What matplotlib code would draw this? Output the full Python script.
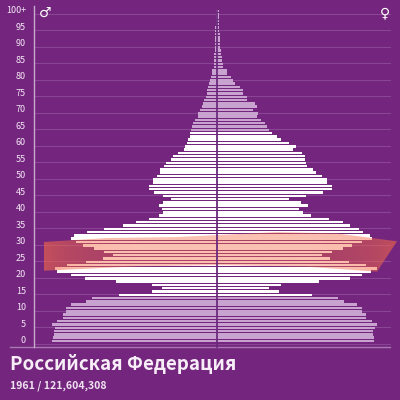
import numpy as np
import matplotlib
matplotlib.use('Agg')
import matplotlib.pyplot as plt
from matplotlib.patches import Polygon

# half widths of the bars, age 0 to 100
male = [165,164,163,163,162,165,160,154,154,151,151,146,131,125,98,65,55,65,101,132,
        146,160,162,150,131,114,104,113,123,134,141,146,143,130,113,94,81,68,58,54,
        55,58,54,46,54,63,68,68,64,64,60,57,57,53,51,46,44,39,33,32,
        30,29,27,27,26,25,24,22,19,19,17,15,14,13,11,10,10,9,8,7,
        6,5,5,3,3,3,3,3,2.5,2.5,2.5,2,2,2,2,2,1.5,1.5,1.5,1.5,1.5]
female = [157,157,156,156,158,160,155,149,149,145,145,140,127,121,95,62,52,64,102,133,
          145,154,160,149,132,113,105,115,126,135,145,155,153,146,142,133,126,112,94,86,
          82,91,84,72,89,106,115,115,110,110,105,99,96,90,89,88,88,85,76,79,
          72,64,60,55,52,50,48,44,40,41,36,40,38,30,30,26,26,23,18,16,
          14,10,10,6,6,5,5,4,4,3,3,3,2.5,2.5,2,2,2,1.5,1.5,1.5,1.5]
ages = np.arange(101)
tick_ages = np.arange(0, 101, 5)
tick_labels = [str(a) for a in tick_ages[:-1]] + ['100+']
title = 'Российская Федерация'
subtitle = '1961 / 121,604,308'

bg = '#74267f'
light = '#f3e6f3'

plt.rcParams['font.family'] = ['Noto Sans CJK SC', 'DejaVu Sans']
fig = plt.figure(figsize=(4, 4), dpi=100, facecolor=bg)
ax = fig.add_axes([0, 0, 1, 1], facecolor=bg)
ax.set_xlim(-217, 183)
ax.set_ylim(-17.88, 103.33)
ax.axis('off')

# grid
for a in tick_ages:
    ax.plot([-183, 173], [a-0.9, a-0.9], color='#8a4494', lw=0.8, zorder=1)
ax.plot([-207, 173], [-1.8, -1.8], color='#a878b0', lw=1, zorder=1)
ax.plot([-183.5, -183.5], [-1.8, 101.5], color='#c9a8ce', lw=1, zorder=1)

colors = ['white' if 14 <= a <= 63 else '#c9a3cf' for a in ages]
ax.barh(ages, -np.array(male), height=0.78, color=colors, zorder=2)
ax.barh(ages, female, height=0.78, color=colors, zorder=2)
ax.plot([0, 0], [-1.8, 100], color='#6a2a7c', lw=1.3, zorder=4)

# cohort band, stronger towards the two ends
band = Polygon([(-173, 30.0), (-110, 31.2), (-40, 31.5), (60, 33.0), (120, 32.6), (180, 30.2),
                (160, 21.0), (90, 22.5), (0, 23.0), (-80, 22.6), (-173, 21.3)],
               closed=True, transform=ax.transData, fc='none', ec='none')
ax.add_patch(band)
xs = np.linspace(-1, 1, 200)
grad = np.zeros((1, 200, 4))
grad[..., 0] = 245/255
grad[..., 1] = 105/255
grad[..., 2] = 70/255
grad[..., 3] = 0.42 + 0.2*np.abs(xs)**6
im = ax.imshow(grad, extent=[-173, 182, 20, 34], aspect='auto', zorder=3)
im.set_clip_path(band)
ax.set_xlim(-217, 183)
ax.set_ylim(-17.88, 103.33)

for a, lab in zip(tick_ages, tick_labels):
    ax.text(-191, a, lab, ha='right', va='center', fontsize=6.5, color=light, zorder=5)

ax.text(-172, 99.4, '♂', ha='center', va='center', fontsize=10, color='white', family='DejaVu Sans', zorder=5)
ax.text(168, 99.4, '♀', ha='center', va='center', fontsize=10, color='white', family='DejaVu Sans', zorder=5)

fig.text(10/400, 1-364/400, title, ha='left', va='center', fontsize=13.5, fontweight='bold', color='#f8eef8')
fig.text(10/400, 1-386/400, subtitle, ha='left', va='center', fontsize=7.6, fontweight='bold', color='#f0e2f0')

fig.savefig('out.png', dpi=100, facecolor=bg)
